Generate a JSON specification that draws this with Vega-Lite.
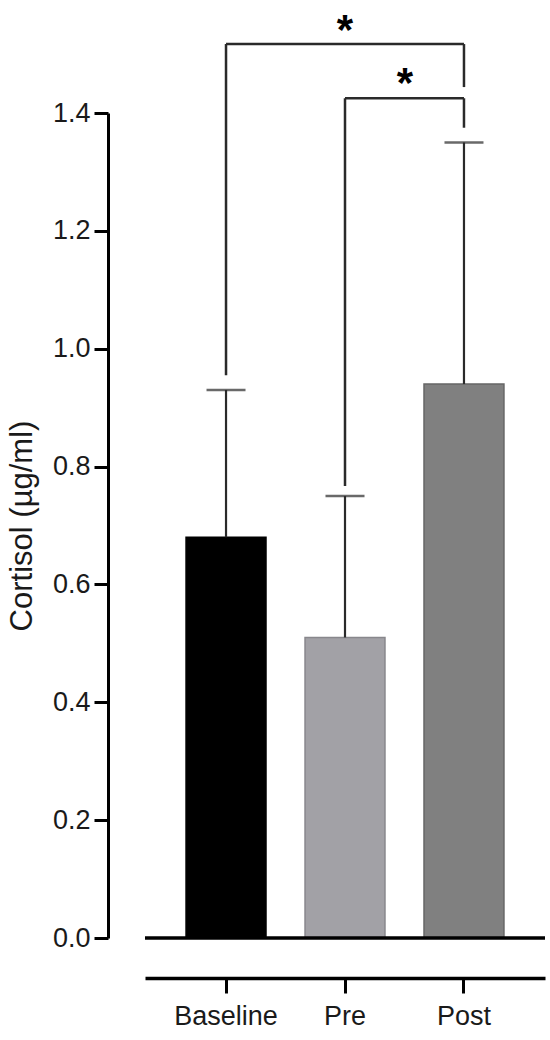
{
  "$schema": "https://vega.github.io/schema/vega-lite/v6.json",
  "autosize": {"type": "none"},
  "width": 400,
  "height": 825,
  "padding": {"top": 113, "left": 145, "right": 5, "bottom": 102},
  "background": "white",
  "config": {
    "view": {"stroke": null},
    "font": "Liberation Sans",
    "axis": {"labelFont": "Liberation Sans", "titleFont": "Liberation Sans", "grid": false}
  },
  "datasets": {
    "bars": [
      {"group": "Baseline", "mean": 0.68, "upper": 0.93},
      {"group": "Pre", "mean": 0.51, "upper": 0.75},
      {"group": "Post", "mean": 0.94, "upper": 1.35}
    ],
    "hbrackets": [
      {"from": "Baseline", "to": "Post", "level": 1.517},
      {"from": "Pre", "to": "Post", "level": 1.425}
    ],
    "vbrackets": [
      {"group": "Baseline", "y1": 0.955, "y2": 1.517},
      {"group": "Post", "y1": 1.444, "y2": 1.517},
      {"group": "Pre", "y1": 0.767, "y2": 1.425},
      {"group": "Post", "y1": 1.375, "y2": 1.425}
    ],
    "stars": [
      {"group": "Pre", "pos": 0.5, "level": 1.517, "label": "*"},
      {"group": "Pre", "pos": 1.25, "level": 1.427, "label": "*"}
    ]
  },
  "encoding": {
    "x": {
      "field": "group",
      "type": "nominal",
      "sort": ["Baseline", "Pre", "Post"],
      "scale": {"domain": ["Baseline", "Pre", "Post"], "paddingInner": 0.328, "paddingOuter": 0.345},
      "axis": {
        "title": null,
        "labelAngle": 0,
        "labelFontSize": 27,
        "labelColor": "#1a1a1a",
        "labelPadding": 10,
        "tickSize": 15,
        "tickWidth": 3,
        "tickColor": "black",
        "domainWidth": 3.5,
        "domainColor": "black",
        "offset": 40
      }
    }
  },
  "layer": [
    {
      "data": {"name": "bars"},
      "mark": {"type": "bar", "strokeWidth": 1.5},
      "encoding": {
        "y": {
          "field": "mean",
          "type": "quantitative",
          "scale": {"domain": [0, 1.4], "nice": false, "zero": true},
          "axis": {
            "title": "Cortisol (µg/ml)",
            "titleFontSize": 31,
            "titleFontWeight": "normal",
            "titleColor": "#1a1a1a",
            "titlePadding": 14,
            "values": [0, 0.2, 0.4, 0.6, 0.8, 1.0, 1.2, 1.4],
            "format": ".1f",
            "labelFontSize": 27,
            "labelColor": "#1a1a1a",
            "labelPadding": 4,
            "tickSize": 14,
            "tickWidth": 3,
            "tickColor": "black",
            "domainWidth": 3,
            "domainColor": "black",
            "offset": 37
          }
        },
        "fill": {
          "field": "group",
          "type": "nominal",
          "scale": {"domain": ["Baseline", "Pre", "Post"], "range": ["#000000", "#a2a1a6", "#808080"]},
          "legend": null
        },
        "stroke": {
          "field": "group",
          "type": "nominal",
          "scale": {"domain": ["Baseline", "Pre", "Post"], "range": ["#000000", "#88878c", "#666666"]},
          "legend": null
        }
      }
    },
    {
      "data": {"name": "bars"},
      "mark": {"type": "rule", "color": "#2a2a2a", "strokeWidth": 2.2},
      "encoding": {
        "y": {"field": "mean", "type": "quantitative"},
        "y2": {"field": "upper"}
      }
    },
    {
      "data": {"name": "bars"},
      "mark": {"type": "tick", "orient": "horizontal", "color": "#2a2a2a", "size": 39, "thickness": 2.5},
      "encoding": {
        "y": {"field": "upper", "type": "quantitative"}
      }
    },
    {
      "data": {"values": [{"zero": 0}]},
      "mark": {"type": "rule", "color": "black", "strokeWidth": 3.5},
      "encoding": {
        "x": null,
        "y": {"field": "zero", "type": "quantitative"}
      }
    },
    {
      "data": {"name": "hbrackets"},
      "mark": {"type": "rule", "color": "#2a2a2a", "strokeWidth": 2.5},
      "encoding": {
        "x": {"field": "from", "type": "nominal"},
        "x2": {"field": "to"},
        "y": {"field": "level", "type": "quantitative"}
      }
    },
    {
      "data": {"name": "vbrackets"},
      "mark": {"type": "rule", "color": "#2a2a2a", "strokeWidth": 2.5},
      "encoding": {
        "y": {"field": "y1", "type": "quantitative"},
        "y2": {"field": "y2"}
      }
    },
    {
      "data": {"name": "stars"},
      "transform": [{"filter": "datum.pos == 0.5"}],
      "mark": {"type": "text", "fontSize": 42, "fontWeight": "bold", "color": "black", "baseline": "alphabetic", "align": "center"},
      "encoding": {
        "x": {"field": "group", "type": "nominal", "bandPosition": 0.5},
        "y": {"field": "level", "type": "quantitative"},
        "text": {"field": "label"}
      }
    },
    {
      "data": {"name": "stars"},
      "transform": [{"filter": "datum.pos == 1.25"}],
      "mark": {"type": "text", "fontSize": 42, "fontWeight": "bold", "color": "black", "baseline": "alphabetic", "align": "center"},
      "encoding": {
        "x": {"field": "group", "type": "nominal", "bandPosition": 1.25},
        "y": {"field": "level", "type": "quantitative"},
        "text": {"field": "label"}
      }
    }
  ]
}
